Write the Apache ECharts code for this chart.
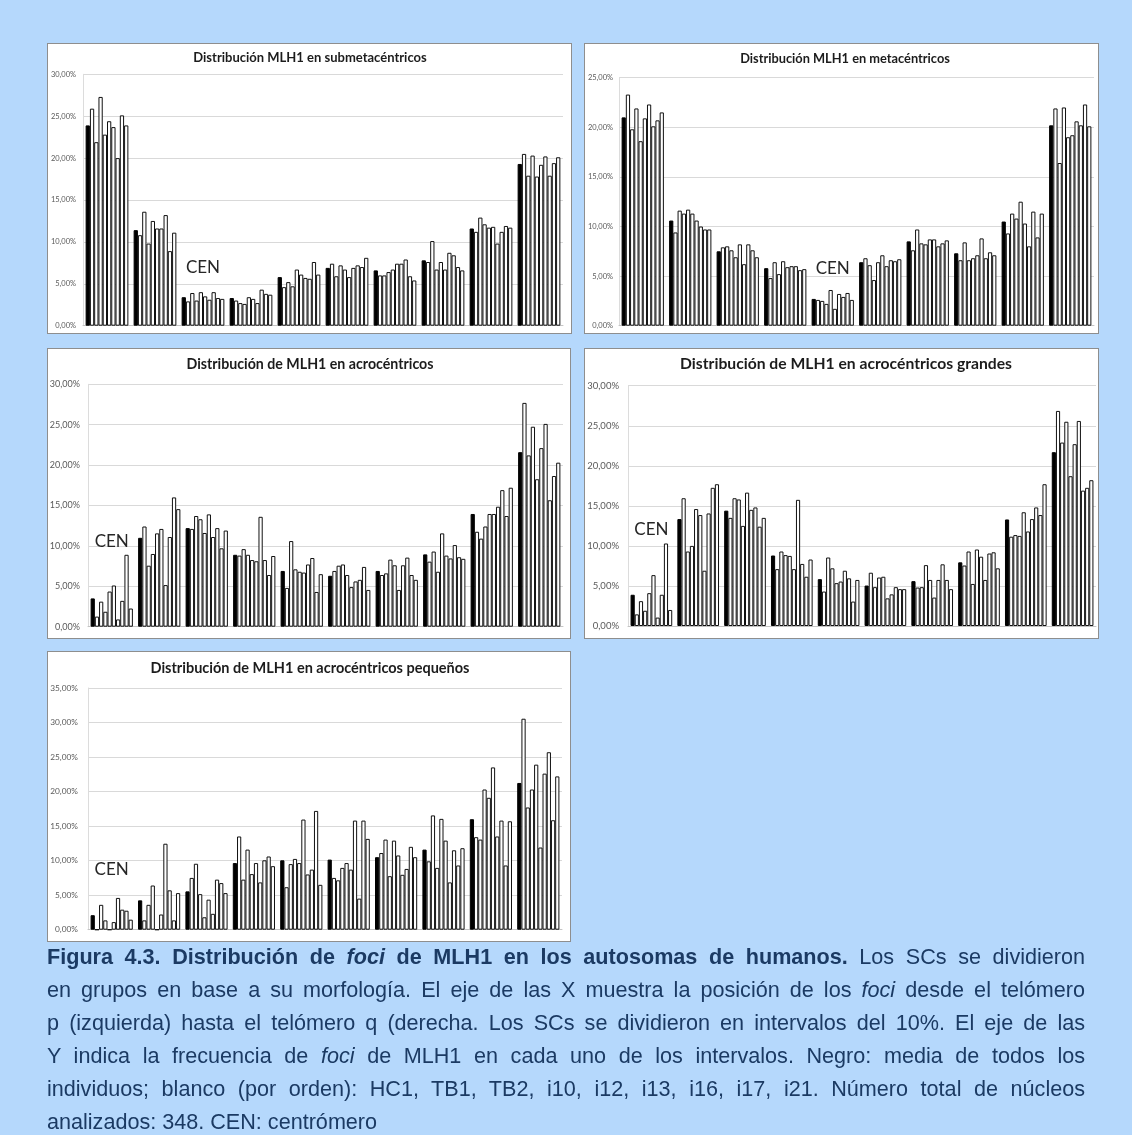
<!DOCTYPE html>
<html>
<head>
<meta charset="utf-8">
<title>Distribución de foci de MLH1</title>
<script src="https://cdn.jsdelivr.net/npm/echarts@6/dist/echarts.min.js"></script>
<style>
  html, body { margin: 0; padding: 0; background: #b5d8fc; width: 1132px; height: 1135px; overflow: hidden; }
  .panel { position: absolute; background: #fff; border: 1px solid #8e8e8e; box-sizing: border-box; }
  #chart { position: absolute; left: 0; top: 0; width: 1132px; height: 945px; }
  #caption { position: absolute; left: 47px; top: 939.5px; width: 1038px;
    font-family: 'Liberation Sans', Arial, sans-serif; font-size: 21.6px; line-height: 33px; color: #1b3a63; }
  #caption .ln { text-align: justify; text-align-last: justify; white-space: nowrap; }
  #caption .last { text-align: left; text-align-last: left; }
</style>
</head>
<body>
<div class="panel" style="left:47px;top:43px;width:525px;height:291px"></div>
<div class="panel" style="left:584px;top:43px;width:515px;height:291px"></div>
<div class="panel" style="left:47px;top:348px;width:524px;height:291px"></div>
<div class="panel" style="left:584px;top:348px;width:515px;height:291px"></div>
<div class="panel" style="left:47px;top:651px;width:524px;height:291px"></div>
<div id="chart"></div>
<div id="caption">
  <div class="ln"><b>Figura 4.3. Distribución de <i>foci</i> de MLH1 en los autosomas de humanos.</b> Los SCs se dividieron</div>
  <div class="ln">en grupos en base a su morfología. El eje de las X muestra la posición de los <i>foci</i> desde el telómero</div>
  <div class="ln">p (izquierda) hasta el telómero q (derecha. Los SCs se dividieron en intervalos del 10%. El eje de las</div>
  <div class="ln">Y indica la frecuencia de <i>foci</i> de MLH1 en cada uno de los intervalos. Negro: media de todos los</div>
  <div class="ln">individuos; blanco (por orden): HC1, TB1, TB2, i10, i12, i13, i16, i17, i21. Número total de núcleos</div>
  <div class="ln last">analizados: 348. CEN: centrómero</div>
</div>
<script>
// Intervals along the SC, from telomere p to telomere q
const intervals = ['0-10%', '10-20%', '20-30%', '30-40%', '40-50%', '50-60%', '60-70%', '70-80%', '80-90%', '90-100%'];
// Series: mean of all individuals (black) followed by each individual (white)
const seriesNames = ['Media', 'HC1', 'TB1', 'TB2', 'i10', 'i12', 'i13', 'i16', 'i17', 'i21'];
const yTicks = [0, 5, 10, 15, 20, 25, 30, 35];

// Frequency of MLH1 foci (%), one row per interval, columns in seriesNames order
const submetacentricos = [
  [23.9, 25.9, 21.9, 27.3, 22.8, 24.4, 23.7, 20.0, 25.1, 23.9],
  [11.4, 10.8, 13.6, 9.8, 12.5, 11.6, 11.6, 13.2, 8.9, 11.1],
  [3.4, 2.9, 3.9, 3.0, 4.0, 3.5, 3.1, 4.0, 3.3, 3.2],
  [3.3, 3.0, 2.7, 2.6, 3.4, 3.2, 2.7, 4.3, 3.8, 3.7],
  [5.8, 4.6, 5.2, 4.7, 6.7, 6.1, 5.7, 5.6, 7.6, 6.1],
  [6.9, 7.4, 5.9, 7.2, 6.7, 5.8, 6.9, 7.2, 7.0, 8.1],
  [6.6, 6.0, 6.0, 6.4, 6.7, 7.4, 7.4, 7.9, 5.9, 5.4],
  [7.8, 7.6, 10.1, 6.7, 7.6, 6.7, 8.7, 8.4, 7.0, 6.6],
  [11.6, 11.2, 12.9, 12.1, 11.7, 11.8, 9.8, 11.2, 11.9, 11.7],
  [19.3, 20.5, 17.9, 20.3, 17.8, 19.2, 20.2, 17.9, 19.4, 20.1]
];
const metacentricos = [
  [21.0, 23.3, 19.8, 21.9, 18.6, 20.9, 22.3, 20.1, 20.7, 21.5],
  [10.6, 9.4, 11.6, 11.3, 11.7, 11.3, 10.6, 10.0, 9.7, 9.7],
  [7.5, 7.9, 8.0, 7.6, 6.9, 8.2, 6.2, 8.2, 7.6, 6.9],
  [5.8, 4.8, 6.4, 5.2, 6.5, 5.9, 6.0, 6.0, 5.6, 5.7],
  [2.7, 2.6, 2.5, 2.2, 3.6, 1.7, 3.2, 2.9, 3.3, 2.6],
  [6.4, 6.8, 6.1, 4.6, 6.4, 7.1, 6.0, 6.6, 6.5, 6.7],
  [8.5, 7.6, 9.7, 8.3, 8.2, 8.7, 8.7, 8.0, 8.3, 8.6],
  [7.3, 6.6, 8.4, 6.6, 6.8, 7.1, 8.8, 6.8, 7.4, 7.1],
  [10.5, 9.3, 11.3, 10.8, 12.5, 10.3, 8.0, 11.5, 8.9, 11.3],
  [20.2, 21.9, 16.4, 22.0, 19.0, 19.2, 20.6, 20.2, 22.3, 20.1]
];
const acrocentricos = [
  [3.5, 1.25, 3.1, 1.85, 4.35, 5.1, 0.9, 3.2, 8.9, 2.25],
  [11.0, 12.4, 7.55, 9.0, 11.55, 12.1, 5.15, 11.1, 16.0, 14.55],
  [12.2, 12.1, 13.7, 13.3, 11.6, 13.9, 11.1, 12.2, 9.7, 11.9],
  [8.9, 8.8, 9.6, 8.9, 8.25, 8.1, 13.6, 8.25, 6.4, 8.75],
  [6.9, 4.8, 10.6, 7.1, 6.8, 6.7, 7.7, 8.5, 4.3, 6.5],
  [6.3, 6.9, 7.55, 7.7, 6.4, 4.9, 5.6, 5.8, 7.4, 4.55],
  [6.9, 6.4, 6.6, 8.3, 7.6, 4.55, 7.6, 8.55, 6.4, 5.8],
  [8.95, 8.05, 9.3, 6.8, 11.55, 8.8, 8.45, 10.1, 8.6, 8.4],
  [13.95, 11.75, 10.9, 12.4, 13.95, 13.95, 14.85, 16.9, 13.7, 17.2],
  [21.6, 27.7, 21.2, 24.75, 18.25, 22.1, 25.1, 15.65, 18.65, 20.3]
];
const acrocentricosGrandes = [
  [3.9, 1.45, 3.1, 1.9, 4.1, 6.35, 1.05, 3.9, 10.3, 2.0],
  [13.35, 15.95, 9.3, 10.0, 14.6, 13.85, 6.9, 14.05, 17.25, 17.7],
  [14.4, 13.5, 15.95, 15.8, 12.5, 16.65, 14.5, 14.8, 12.4, 13.5],
  [8.8, 7.1, 9.3, 8.85, 8.75, 7.1, 15.75, 7.75, 6.15, 8.3],
  [5.85, 4.3, 8.55, 7.2, 5.35, 5.55, 6.9, 5.95, 3.05, 5.75],
  [5.05, 6.65, 4.85, 6.05, 6.15, 3.45, 3.95, 4.85, 4.6, 4.6],
  [5.6, 4.8, 4.85, 7.6, 5.75, 3.55, 5.75, 7.7, 5.75, 4.6],
  [7.95, 7.55, 9.3, 5.25, 9.55, 8.65, 5.75, 9.05, 9.2, 7.2],
  [13.3, 11.15, 11.35, 11.25, 14.2, 11.8, 13.35, 14.8, 13.85, 17.7],
  [21.7, 26.85, 22.9, 25.5, 18.7, 22.7, 25.6, 16.9, 17.25, 18.2]
];
const acrocentricosPequenos = [
  [2.1, 0, 3.6, 1.35, 0, 1.1, 4.6, 2.9, 2.75, 1.45],
  [4.25, 1.35, 3.6, 6.4, 0, 2.2, 12.45, 5.7, 1.35, 5.3],
  [5.55, 7.5, 9.55, 5.15, 1.8, 4.35, 2.3, 7.25, 6.75, 5.3],
  [9.65, 13.5, 7.25, 11.6, 8.05, 9.65, 6.85, 10.05, 10.6, 9.2],
  [10.05, 6.15, 9.5, 10.25, 9.65, 15.95, 8.0, 8.7, 17.2, 6.5],
  [10.15, 7.5, 7.15, 8.95, 9.65, 8.7, 15.8, 4.5, 15.8, 13.15],
  [10.5, 11.1, 13.05, 7.75, 12.9, 10.75, 7.95, 8.8, 12.0, 10.5],
  [11.6, 9.9, 16.55, 8.95, 16.05, 12.9, 6.85, 11.5, 9.3, 11.8],
  [16.0, 13.4, 13.05, 20.3, 19.1, 23.5, 13.5, 15.8, 9.3, 15.7],
  [21.25, 30.55, 17.7, 20.3, 23.9, 11.9, 22.6, 25.7, 15.85, 22.2]
];

// Panel descriptions: title, data, axis maximum, centromere interval, layout
const panels = [
  { title: 'Distribución MLH1 en submetacéntricos', rows: submetacentricos, yMax: 30, cen: 2, cenY: 6.9,
    grid: { left: 83, top: 74.3, width: 480, height: 251.4 }, titleX: 310, titleY: 58, titleSize: 13, labelSize: 7.5, labelMargin: 7 },
  { title: 'Distribución MLH1 en metacéntricos', rows: metacentricos, yMax: 25, cen: 4, cenY: 5.8,
    grid: { left: 619, top: 77.7, width: 475, height: 248 }, titleX: 845, titleY: 59, titleSize: 12.8, labelSize: 7.5, labelMargin: 6 },
  { title: 'Distribución de MLH1 en acrocéntricos', rows: acrocentricos, yMax: 30, cen: 0, cenY: 10.5,
    grid: { left: 88, top: 384.3, width: 475, height: 242.4 }, titleX: 310, titleY: 364, titleSize: 14.2, labelSize: 9, labelMargin: 8 },
  { title: 'Distribución de MLH1 en acrocéntricos grandes', rows: acrocentricosGrandes, yMax: 30, cen: 0, cenY: 12,
    grid: { left: 628, top: 385.7, width: 468, height: 240.3 }, titleX: 846, titleY: 364, titleSize: 15.7, labelSize: 9.5, labelMargin: 9 },
  { title: 'Distribución de MLH1 en acrocéntricos pequeños', rows: acrocentricosPequenos, yMax: 35, cen: 0, cenY: 8.65,
    grid: { left: 88, top: 688, width: 474, height: 241.7 }, titleX: 310, titleY: 668, titleSize: 14.5, labelSize: 8.3, labelMargin: 10 }
];

const pct = v => v.toFixed(2).replace('.', ',') + '%';

const grids = [], xAxes = [], yAxes = [], series = [], texts = [];
panels.forEach((p, i) => {
  grids.push(Object.assign({ containLabel: false }, p.grid));
  xAxes.push({
    gridIndex: i, type: 'category', data: intervals,
    axisLabel: { show: false }, axisTick: { show: false },
    axisLine: { show: true, lineStyle: { color: '#c4c4c4', width: 1 } }
  });
  yAxes.push({
    gridIndex: i, type: 'value', min: 0, max: p.yMax, interval: 5,
    axisLabel: {
      fontFamily: 'Lato, sans-serif', fontSize: p.labelSize, color: '#5a5a5a', margin: p.labelMargin,
      formatter: v => (yTicks.indexOf(v) >= 0 ? pct(v) : '')
    },
    axisTick: { show: false },
    axisLine: { show: true, lineStyle: { color: '#dcdcdc', width: 1 } },
    splitLine: { show: true, lineStyle: { color: '#d9d9d9', width: 1 } }
  });
  seriesNames.forEach((name, s) => {
    series.push({
      type: 'bar', name: name, xAxisIndex: i, yAxisIndex: i,
      data: p.rows.map(r => r[s]),
      barGap: '0%', barCategoryGap: '11%',
      silent: true,
      itemStyle: s === 0
        ? { color: '#000000', borderColor: '#000000', borderWidth: 1 }
        : { color: '#ffffff', borderColor: '#111111', borderWidth: 1 }
    });
  });
  texts.push({
    type: 'text', x: p.titleX, y: p.titleY, silent: true,
    style: { text: p.title, align: 'center', verticalAlign: 'middle',
      fontFamily: 'Lato, sans-serif', fontWeight: 'bold', fontSize: p.titleSize, fill: '#1c1c1c' }
  });
});

const chart = echarts.init(document.getElementById('chart'), null, { renderer: 'canvas' });
chart.setOption({
  animation: false,
  backgroundColor: 'transparent',
  grid: grids, xAxis: xAxes, yAxis: yAxes, series: series
});

// Centromere markers above the corresponding interval
panels.forEach((p, i) => {
  const x = chart.convertToPixel({ xAxisIndex: i }, intervals[p.cen]);
  const y = chart.convertToPixel({ yAxisIndex: i }, p.cenY);
  texts.push({
    type: 'text', x: x, y: y, silent: true,
    style: { text: 'CEN', align: 'center', verticalAlign: 'middle',
      fontFamily: 'Lato, sans-serif', fontSize: 17, fill: '#262626' }
  });
});
chart.setOption({ graphic: { elements: texts } });
</script>
</body>
</html>
